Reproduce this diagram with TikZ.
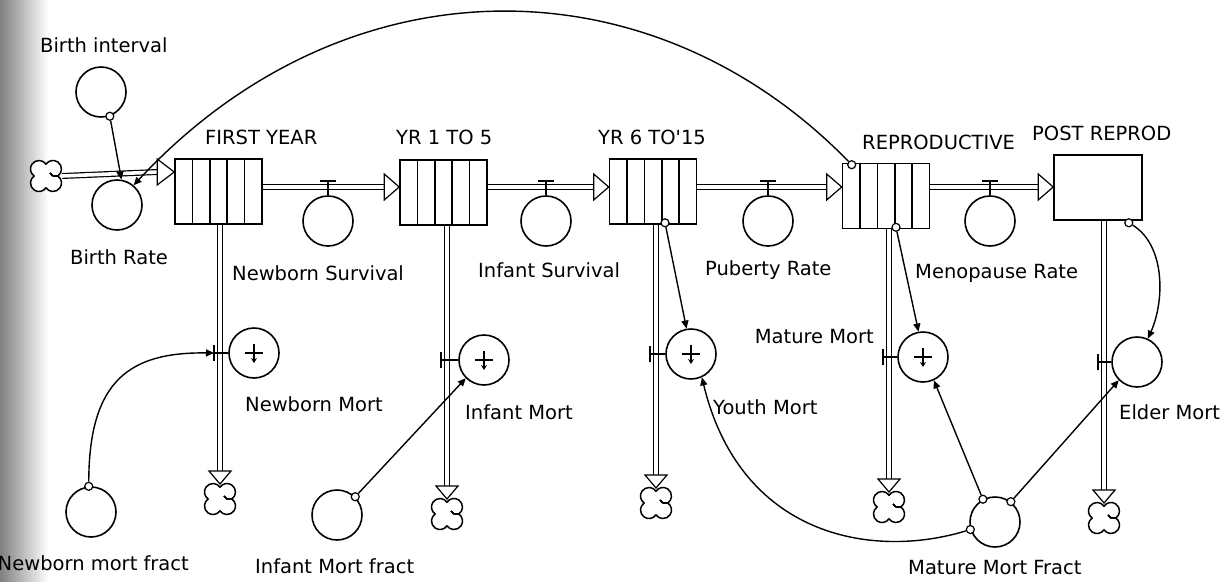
\documentclass[tikz,border=0pt]{standalone}
\usepackage{fontspec}
\setmainfont{DejaVu Sans}
\usetikzlibrary{calc,arrows.meta}
\begin{document}
\begin{tikzpicture}[x=1pt,y=-1pt,
  lw/.style={line width=1.6pt},
  stockbox/.style={draw,lw,rectangle,minimum width=87pt,minimum height=65pt,inner sep=0pt,fill=white},
  conveyor/.style={stockbox,path picture={\foreach \i in {1,2,3,4}{\draw[lw] ($(path picture bounding box.south west)!\i/5!(path picture bounding box.south east)$) -- ($(path picture bounding box.north west)!\i/5!(path picture bounding box.north east)$);}}},
  conv/.style={draw,lw,circle,minimum size=50pt,inner sep=0pt,fill=white},
  mortconv/.style={conv,path picture={\draw[line width=1.3pt] ($(path picture bounding box.center)+(-9,0)$) -- ++(18,0);
     \draw[line width=1.3pt,-{Stealth[length=5pt,width=6pt]}] ($(path picture bounding box.center)+(0,-9)$) -- ++(0,19);}},
  sinkcloud/.style={circle,minimum size=42pt,inner sep=0pt,path picture={
     \begin{scope}[shift={(path picture bounding box.center)}]
     \draw[line width=1.5pt,fill=white] (11.8,0) arc[start angle=-55.6,end angle=145.6,radius=8.5]
        arc[start angle=34.4,end angle=235.6,radius=8.5]
        arc[start angle=124.4,end angle=325.6,radius=8.5]
        arc[start angle=214.4,end angle=415.6,radius=8.5] -- cycle;
     \foreach \a in {0,90,180,270}{\draw[line width=1.3pt,rotate=\a] (11.8,0) .. controls (6,0) .. (4,-3);}
     \end{scope}}},
  pipe/.style={draw,line width=1.2pt,double=white,double distance=3.6pt},
  tri/.style={draw,line width=1.2pt,fill=white,line join=miter},
  conn/.style={draw,line width=1.4pt,-{Triangle[length=8pt,width=7pt]}},
  dot/.style={draw,line width=1.2pt,circle,minimum size=8pt,inner sep=0pt,fill=white},
  lbl/.style={inner sep=0pt,font=\fontsize{19.5}{22}\selectfont}
]
\fill[white] (0,0) rectangle (1220,581);
\useasboundingbox (0,0) rectangle (1220,581);
\shade[left color=black!50,right color=white] (0,0) rectangle (48,581);

\coordinate (py) at (0,187);
\coordinate (py0) at (0,172);

% stocks
\node[conveyor] (fy) at (218.5,191.5) {};
\node[conveyor] (y15) at (443.5,192.5) {};
\node[conveyor] (y615) at (653,191.5) {};
\node[conveyor] (rep) at (886,196) {};
\node[stockbox,minimum width=88pt] (post) at (1098,187.5) {};

% stock labels
\node[lbl,anchor=west] (tfy) at (205,137) {FIRST YEAR};
\node[lbl,anchor=west] (ty15) at (396,137) {YR 1 TO 5};
\node[lbl,anchor=west] (ty615) at (598,137) {YR 6 TO\textquotesingle 15};
\node[lbl,anchor=west] (trep) at (862,142) {REPRODUCTIVE};
\node[lbl,anchor=west] (tpost) at (1032,133) {POST REPROD};

% source cloud and inflow
\node[sinkcloud] (src) at (46,176) {};
\draw[pipe] ($(src)+(16,0)$ |- py0) -- ($(fy.west |- py0)+(-17,0)$);
\draw[tri] (fy.west |- py0) -- ++(-17,-13) -- ++(0,26) -- cycle;

% flows between stocks
\draw[pipe] (fy.east |- py) -- ($(y15.west |- py)+(-15,0)$);
\draw[tri] (y15.west |- py) -- ++(-15,-13) -- ++(0,26) -- cycle;
\draw[pipe] (y15.east |- py) -- ($(y615.west |- py)+(-15,0)$);
\draw[tri] (y615.west |- py) -- ++(-15,-13) -- ++(0,26) -- cycle;
\draw[pipe] (y615.east |- py) -- ($(rep.west |- py)+(-15,0)$);
\draw[tri] (rep.west |- py) -- ++(-15,-13) -- ++(0,26) -- cycle;
\draw[pipe] (rep.east |- py) -- ($(post.west |- py)+(-15,0)$);
\draw[tri] (post.west |- py) -- ++(-15,-13) -- ++(0,26) -- cycle;

% flow valves
\foreach \n/\x in {v1/328,v2/546,v3/768,v4/990}{
  \node[conv] (\n) at (\x,221) {};
  \draw[lw] (\n.north) -- ++(0,-14) coordinate (\n top);
  \draw[lw] ($(\n top)+(-8,0)$) -- ++(16,0);
}

% converters
\node[conv] (bi) at (101,92) {};
\node[conv] (br) at (117,205) {};
\node[lbl,anchor=west] (tbi) at (40,45) {Birth interval};
\node[lbl,anchor=west] (tbr) at (70,257) {Birth Rate};

\node[lbl,anchor=west] (tv1) at (232,273) {Newborn Survival};
\node[lbl,anchor=west] (tv2) at (478,270) {Infant Survival};
\node[lbl,anchor=west] (tv3) at (705,270) {Puberty Rate};
\node[lbl,anchor=west] (tv4) at (915,273) {Menopause Rate};

% sink clouds
\node[sinkcloud] (c1) at (220,499) {};
\node[sinkcloud] (c2) at (447,514) {};
\node[sinkcloud] (c3) at (656,503) {};
\node[sinkcloud] (c4) at (889,507) {};
\node[sinkcloud] (c5) at (1104,518) {};

% outflow pipes
\foreach \c/\s in {c1/fy,c2/y15,c3/y615,c4/rep,c5/post}{
  \draw[pipe] (\c |- \s.south) -- ($(\c)+(0,-28)$);
  \draw[tri] ($(\c)+(0,-15)$) -- ++(-11,-13) -- ++(22,0) -- cycle;
}

% mortality valves
\node[mortconv] (nm) at (254,353) {};
\node[mortconv] (im) at (484,360) {};
\node[mortconv] (ym) at (691,354) {};
\node[mortconv] (mm) at (923,357) {};
\node[conv] (em) at (1137,362) {};
\foreach \v/\c/\k in {nm/c1/1,im/c2/2,ym/c3/3,mm/c4/4,em/c5/5}{
  \coordinate (t\k) at ($(\c |- \v)+(-6,0)$);
  \draw[lw] (\v.west) -- (t\k);
  \draw[lw] ($(t\k)+(0,-8)$) -- ($(t\k)+(0,8)$);
}
\node[lbl,anchor=west] (tnm) at (245,404) {Newborn Mort};
\node[lbl,anchor=west] (tim) at (465,412) {Infant Mort};
\node[lbl,anchor=west] (tym) at (713,407) {Youth Mort};
\node[lbl,anchor=east] (tmm) at (874,337) {Mature Mort};
\node[lbl,anchor=west] (tem) at (1119,412) {Elder Mort};

% fraction converters
\node[conv] (nmf) at (91,512) {};
\node[conv] (imf) at (337,515) {};
\node[conv] (mmf) at (995,522) {};
\node[lbl,anchor=east] (tnmf) at (189,563) {Newborn mort fract};
\node[lbl,anchor=west] (timf) at (255,566) {Infant Mort fract};
\node[lbl,anchor=west] (tmmf) at (908,568) {Mature Mort Fract};

% connectors
\node[dot] (d1) at (bi.-70) {};
\draw[conn] (d1) -- (br.80);
\node[dot] (d2) at ($(rep.north west)+(10,2)$) {};
\draw[conn] (d2) .. controls (650,-42) and (345,-42) .. (br.50);
\node[dot] (d3) at ($(y615.south)+(12,-2)$) {};
\draw[conn] (d3) -- (ym.100);
\node[dot] (d4) at ($(rep.south)+(10,-2)$) {};
\draw[conn] (d4) -- (mm.100);
\node[dot] (d5) at ($(post.south east)+(-14,2)$) {};
\draw[conn] (d5) .. controls (1165,245) and (1165,300) .. (em.65);
\node[dot] (d6) at (mmf.118) {};
\draw[conn] (d6) -- (mm.-65);
\node[dot] (d7) at (mmf.52) {};
\draw[conn] (d7) -- (em.-135);
\node[dot] (d8) at (mmf.197) {};
\draw[conn] (d8) .. controls (870,560) and (740,535) .. (ym.-65);
\node[dot] (d9) at (nmf.95) {};
\draw[conn] (d9) .. controls (89,380) and (130,352) .. (t1);
\node[dot] (d10) at (imf.45) {};
\draw[conn] (d10) -- (im.-135);
\end{tikzpicture}
\end{document}
